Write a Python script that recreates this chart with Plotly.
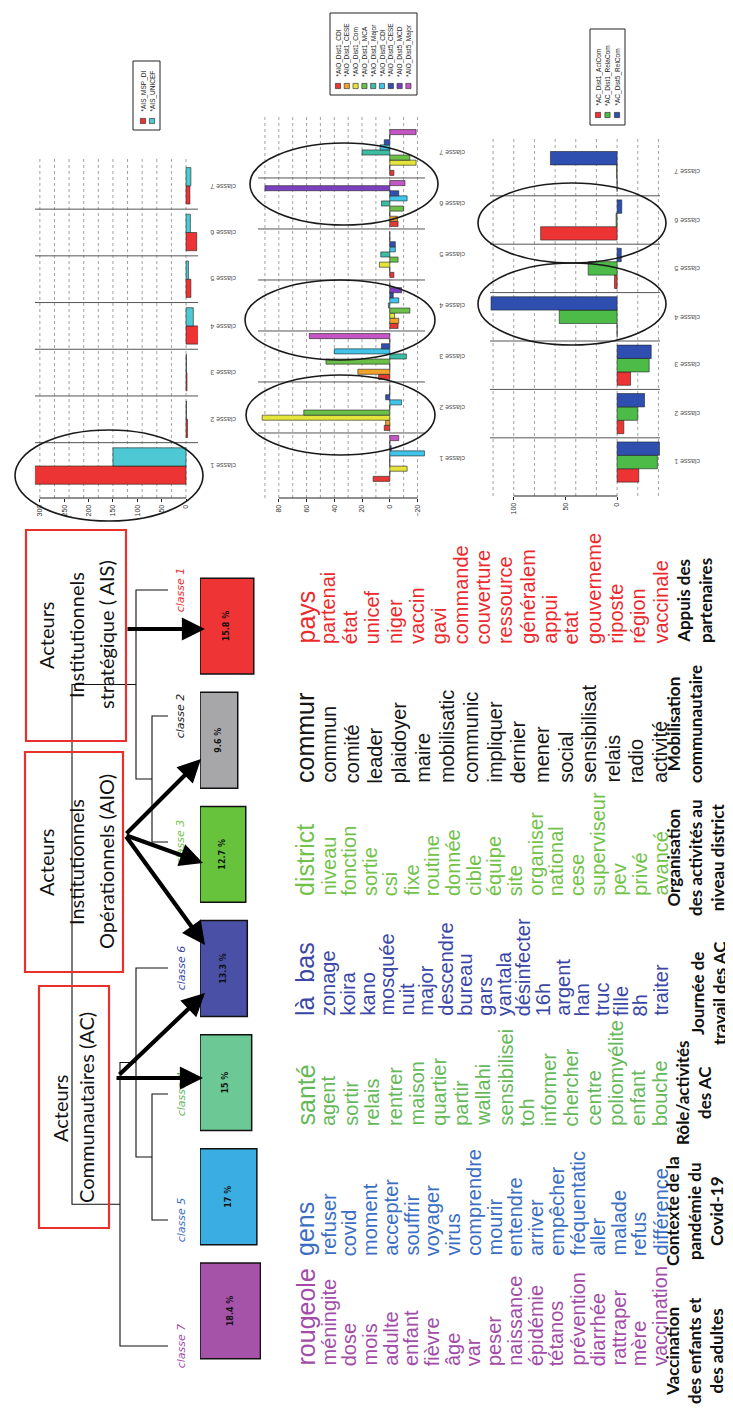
import numpy as np
import plotly.graph_objects as go

W, H = 733, 1409

# ---------------- data ----------------
classes = ["classe 1", "classe 2", "classe 3", "classe 4", "classe 5", "classe 6", "classe 7"]

# Acteurs Institutionnels Stratégiques
ais_names = ["*AIS_MSP_DI", "*AIS_UNICEF"]
ais_msp_di = [312, -3, -2, -27, -10, -22, -8]
ais_unicef = [150, -1, -1, -15, -5, -9, -10]

# Acteurs Institutionnels Opérationnels
aio_names = ["*AIO_Dist1_CDI", "*AIO_Dist1_CESE", "*AIO_Dist1_Com", "*AIO_Dist1_MCA",
             "*AIO_Dist1_Major", "*AIO_Dist5_CDI", "*AIO_Dist5_CESE", "*AIO_Dist5_MCD",
             "*AIO_Dist5_Major"]
aio_d1_cdi = [12, 4, 8, -6, -3, -6, -3]
aio_d1_cese = [0, 3, 23, -6.5, 0, -5.5, 0]
aio_d1_com = [-12.5, 92, 0, -3.5, 7.5, 0, -19]
aio_d1_mca = [0, 62, 46, -14.5, -6, -10, -14.5]
aio_d1_major = [0, 0, -12, 1, 6.5, 6, 20]
aio_d5_cdi = [-25, -8.5, 40, -6.5, -4, -12.5, 7]
aio_d5_cese = [-1, 3, 6, -2.5, -4, -6.5, 4]
aio_d5_mcd = [0, 0, 0, -8.5, 0, 90, 0]
aio_d5_major = [-6.5, 0, 58, 0, 0, -11, -19]

# Acteurs Communautaires
ac_names = ["*AC_Dist1_ActCom", "*AC_Dist1_RelaCom", "*AC_Dist5_RelCom"]
ac_d1_actcom = [-21, -6.5, -13, 0, 2.5, 74, 0]
ac_d1_relacom = [-39, -20, -31, 56, 28, 1, 0.5]
ac_d5_relcom = [-41, -26.5, -33, 122, -4, -4.5, 64.5]

# dendrogram (leaf order top -> bottom) and class sizes (%)
dendro_order = ["classe 1", "classe 2", "classe 3", "classe 6", "classe 4", "classe 5", "classe 7"]
class_pct = [15.8, 9.6, 12.7, 13.3, 15, 17, 18.4]
pct_labels = ["15.8 %", "9.6 %", "12.7 %", "13.3 %", "15 %", "17 %", "18.4 %"]
# merges: (left, right, height); ints refer to earlier merges
merges = [("classe 2", "classe 3", 1.0), ("classe 4", "classe 5", 1.0),
          ("classe 1", 0, 2.0), ("classe 6", 1, 2.0), (3, "classe 7", 3.0), (2, 4, 6.0)]

words = {
    "classe 1": ["pays", "partenai", "état", "unicef", "niger", "vaccin", "gavi", "commande",
                 "couverture", "ressource", "généralem", "appui", "etat", "gouverneme",
                 "riposte", "région", "vaccinale"],
    "classe 2": ["commur", "commun", "comité", "leader", "plaidoyer", "maire", "mobilisatic",
                 "communic", "impliquer", "dernier", "mener", "social", "sensibilisat",
                 "relais", "radio", "activité"],
    "classe 3": ["district", "niveau", "fonction", "sortie", "csi", "fixe", "routine", "donnée",
                 "cible", "équipe", "site", "organiser", "national", "cese", "superviseur",
                 "pev", "privé", "avancé"],
    "classe 6": ["là  bas", "zonage", "koira", "kano", "mosquée", "nuit", "major", "descendre",
                 "bureau", "gars", "yantala", "désinfecter", "16h", "argent", "han", "truc",
                 "fille", "8h", "traiter"],
    "classe 4": ["santé", "agent", "sortir", "relais", "rentrer", "maison", "quartier", "partir",
                 "wallahi", "sensibilisei", "toh", "informer", "chercher", "centre",
                 "poliomyélite", "enfant", "bouche"],
    "classe 5": ["gens", "refuser", "covid", "moment", "accepter", "souffrir", "voyager", "virus",
                 "comprendre", "mourir", "entendre", "arriver", "empêcher", "fréquentatic",
                 "aller", "malade", "refus", "différence"],
    "classe 7": ["rougeole", "méningite", "dose", "mois", "adulte", "enfant", "fièvre", "âge",
                 "var", "peser", "naissance", "épidémie", "tétanos", "prévention", "diarrhée",
                 "rattraper", "mère", "vaccination"],
}
theme_labels = {
    "classe 1": "Appuis des<br>partenaires",
    "classe 2": "Mobilisation<br>communautaire",
    "classe 3": "Organisation<br>des activités au<br>niveau district",
    "classe 6": "Journée de<br>travail des AC",
    "classe 4": "Rôle/activités<br>des AC",
    "classe 5": "Contexte de la<br>pandémie du<br>Covid-19",
    "classe 7": "Vaccination<br>des enfants et<br>des adultes",
}
actor_boxes = [
    ["Acteurs", "Institutionnels", "stratégique ( AIS)"],
    ["Acteurs", "Institutionnels", "Opérationnels (AIO)"],
    ["Acteurs", "Communautaires (AC)"],
]

# ---------------- styles ----------------
box_colors = {"classe 1": "#ee3434", "classe 2": "#a7a7aa", "classe 3": "#67c23c",
              "classe 6": "#4a50a6", "classe 4": "#6cc894", "classe 5": "#3aaee2",
              "classe 7": "#a553a8"}
text_colors = {"classe 1": "#ec2a2e", "classe 2": "#161616", "classe 3": "#72c24a",
               "classe 6": "#3a47a6", "classe 4": "#66b85a", "classe 5": "#3a6ec2",
               "classe 7": "#a24ca8"}
ais_colors = ["#ec3434", "#4ec8d2"]
aio_colors = ["#e53935", "#f2a22a", "#e4e43a", "#6cc04a", "#3cbca2", "#40c4ea",
              "#3050b0", "#7b3fbf", "#c455c4"]
ac_colors = ["#ec3434", "#4cbb47", "#2f4fb0"]

fig = go.Figure()
ann, shp = [], []


def dom_x(a, b):
    return [a / W, b / W]


def dom_y(top, bot):
    return [1 - bot / H, 1 - top / H]


# ---------------- canvas axis (pixel space) ----------------
fig.add_trace(go.Scatter(x=[0], y=[0], mode="markers", marker=dict(opacity=0),
                         xaxis="x6", yaxis="y6", showlegend=False, hoverinfo="skip"))

# ---------------- bar charts ----------------
charts = [
    dict(sfx="", names=ais_names, series=[ais_msp_di, ais_unicef], colors=ais_colors,
         xdom=(27, 190), ydom=(148, 490), xr=[310, -24.6], yr=[0.315, 7.638], fill=0.78,
         ticks=list(range(0, 301, 50)), grid=(0, 300, 30), std=10),
    dict(sfx="2", names=aio_names,
         series=[aio_d1_cdi, aio_d1_cese, aio_d1_com, aio_d1_mca, aio_d1_major,
                 aio_d5_cdi, aio_d5_cese, aio_d5_mcd, aio_d5_major],
         colors=aio_colors, xdom=(250, 417), ydom=(107, 490), xr=[95, -25.4],
         yr=[0.225, 7.735], fill=0.9, ticks=list(range(-20, 81, 20)), grid=(-20, 90, 10), std=12),
    dict(sfx="3", names=ac_names, series=[ac_d1_actcom, ac_d1_relacom, ac_d5_relcom],
         colors=ac_colors, xdom=(482, 652), ydom=(130, 488), xr=[123, -41.5],
         yr=[0.298, 7.694], fill=0.83, ticks=[0, 50, 100], grid=(-40, 120, 20), std=12),
]
ypos = list(range(1, 8))
for ch in charts:
    xa, ya = "x" + ch["sfx"], "y" + ch["sfx"]
    n = len(ch["series"])
    bw = ch["fill"] / n
    for i, (vals, col) in enumerate(zip(ch["series"], ch["colors"])):
        fig.add_trace(go.Bar(x=vals, y=ypos, orientation="h", width=bw,
                             offset=-ch["fill"] / 2 + i * bw,
                             marker=dict(color=col, line=dict(color="#222", width=0.6)),
                             xaxis=xa, yaxis=ya, showlegend=False))
    fig.update_layout(**{
        "xaxis" + ch["sfx"]: dict(domain=dom_x(*ch["xdom"]), range=ch["xr"], anchor=ya,
                                  tickvals=ch["ticks"], tickangle=-90, ticks="outside",
                                  ticklen=3, tickcolor="#222", showgrid=False, zeroline=False,
                                  showline=False, tickfont=dict(size=7, color="#333")),
        "yaxis" + ch["sfx"]: dict(domain=dom_y(*ch["ydom"]), range=ch["yr"], anchor=xa,
                                  visible=False),
    })
    g0, g1, gs = ch["grid"]
    for v in np.arange(g0, g1 + 0.1, gs):
        shp.append(dict(type="line", xref=xa, x0=v, x1=v, yref=ya + " domain", y0=0, y1=1,
                        line=dict(color="#8a8a8a", width=0.8, dash="dot"), layer="below"))
    shp.append(dict(type="line", xref=xa, x0=min(ch["ticks"]), x1=max(ch["ticks"]),
                    yref=ya + " domain", y0=0, y1=0, line=dict(color="#222", width=1)))
    for k in range(1, 7):
        shp.append(dict(type="line", xref=xa + " domain", x0=0, x1=1, yref=ya, y0=k + 0.5,
                        y1=k + 0.5, line=dict(color="#555", width=1)))
    for k, c in zip(ypos, classes):
        ann.append(dict(text=c, xref=xa + " domain", x=1, xanchor="left", xshift=ch["std"],
                        yref=ya, y=k, yanchor="middle", textangle=180, showarrow=False,
                        font=dict(size=7, color="#555")))

# custom legends (rotated)
legends = [
    dict(names=ais_names, colors=ais_colors, box=(125, 53, 152, 122), x0=135, dx=9, sq=113, ty=106),
    dict(names=aio_names, colors=aio_colors, box=(322, 5, 409, 87), x0=330, dx=8.8, sq=78, ty=71),
    dict(names=ac_names, colors=ac_colors, box=(582, 21, 617, 117), x0=590, dx=9.5, sq=107, ty=100),
]
for lg in legends:
    bx0, by0, bx1, by1 = lg["box"]
    shp.append(dict(type="rect", xref="x6", yref="y6", x0=bx0, y0=by0, x1=bx1, y1=by1,
                    line=dict(color="#222", width=1)))
    for i, (nm, col) in enumerate(zip(lg["names"], lg["colors"])):
        cx = lg["x0"] + i * lg["dx"]
        shp.append(dict(type="rect", xref="x6", yref="y6", x0=cx - 2.6, x1=cx + 2.6,
                        y0=lg["sq"] - 2.6, y1=lg["sq"] + 2.6, fillcolor=col,
                        line=dict(color="#222", width=0.6)))
        ann.append(dict(text=nm, xref="x6", yref="y6", x=cx, y=lg["ty"], xanchor="center",
                        yanchor="bottom", textangle=-90, showarrow=False,
                        font=dict(size=6.5, color="#222")))

# ellipses
for (x0, y0, x1, y1) in [(7, 422, 195, 513), (242, 135, 430, 217), (237, 272, 427, 352),
                         (238, 367, 427, 447), (470, 175, 658, 255), (470, 255, 658, 337)]:
    shp.append(dict(type="circle", xref="x6", yref="y6", x0=x0, y0=y0, x1=x1, y1=y1,
                    line=dict(color="#1a1a1a", width=1.6)))

# ---------------- dendrogram ----------------
node = {}
for i, c in enumerate(dendro_order):
    node[c] = (0.0, float(i))
lx, ly = [], []
for mi, (a, b, h) in enumerate(merges):
    ha, ya_ = node[a]
    hb, yb = node[b]
    lx += [ha, h, h, hb, None]
    ly += [ya_, ya_, yb, yb, None]
    node[mi] = (h, (ya_ + yb) / 2)
fig.add_trace(go.Scatter(x=lx, y=ly, mode="lines", line=dict(color="#111", width=1.1),
                         xaxis="x5", yaxis="y5", showlegend=False, hoverinfo="skip"))
fig.update_layout(
    xaxis5=dict(domain=dom_x(40, 170), range=[7.5, -0.625], visible=False, anchor="y5"),
    yaxis5=dict(domain=dom_y(540, 1380), range=[6.333, -0.333], visible=False, anchor="x5"),
)
for i, c in enumerate(dendro_order):
    ann.append(dict(text="<i>" + c + "</i>", xref="x5", yref="y5", x=-0.3, y=i,
                    xanchor="left", yanchor="middle", textangle=-90, showarrow=False,
                    font=dict(size=11, color=text_colors[c], family="DejaVu Sans")))

# class boxes as bars
fig.add_trace(go.Bar(x=[p + 5 for p in class_pct], base=-5, y=dendro_order, orientation="h",
                     width=0.84, marker=dict(color=[box_colors[c] for c in dendro_order],
                                             line=dict(color="#111", width=1.5)),
                     text=pct_labels, textposition="inside", insidetextanchor="middle",
                     textangle=-90, constraintext="none",
                     textfont=dict(size=8, color="#111", family="DejaVu Sans", weight="bold"),
                     xaxis="x4", yaxis="y4", showlegend=False))
fig.update_layout(
    xaxis4=dict(domain=dom_x(192, 253), range=[-5, 18.6], visible=False, anchor="y4"),
    yaxis4=dict(domain=dom_y(561, 1360), categoryorder="array", categoryarray=dendro_order,
                autorange="reversed", visible=False, anchor="x4"),
)

# actor boxes (red frames with rotated text)
box_geom = [(18, 522, 118, 733, [38, 68, 98], 627),
            (17, 744, 115, 964, [38, 68, 98], 854),
            (31, 978, 101, 1220, [52, 78], 1100)]
for (x0, y0, x1, y1, lxs, cy), lines in zip(box_geom, actor_boxes):
    shp.append(dict(type="rect", xref="x6", yref="y6", x0=x0, y0=y0, x1=x1, y1=y1,
                    line=dict(color="#e8302c", width=2.2)))
    for xx, t in zip(lxs, lines):
        ann.append(dict(text=t, xref="x6", yref="y6", x=xx, y=cy, xanchor="center",
                        yanchor="middle", textangle=-90, showarrow=False,
                        font=dict(size=20, color="#111", family="Lato")))

# arrows
for (tx, ty, hx, hy) in [(118, 621, 197, 621), (117, 827, 193, 751), (117, 827, 195, 855),
                         (117, 827, 197, 937), (107, 1070, 195, 1070), (110, 1068, 197, 985)]:
    ann.append(dict(text="", xref="x6", yref="y6", x=hx, y=hy, axref="x6", ayref="y6",
                    ax=tx, ay=ty, showarrow=True, arrowhead=2, arrowsize=1.1,
                    arrowwidth=4.2, arrowcolor="#000", standoff=0))

# word lists
col_bottom = {"classe 1": 638, "classe 2": 777, "classe 3": 890, "classe 6": 1010,
              "classe 4": 1120, "classe 5": 1250, "classe 7": 1360}
for c in dendro_order:
    wl = words[c]
    xs = [297] + list(np.linspace(320, 652, len(wl) - 1))
    for j, (w, xx) in enumerate(zip(wl, xs)):
        ann.append(dict(text=w, xref="x6", yref="y6", x=xx, y=col_bottom[c], xanchor="center",
                        yanchor="bottom", textangle=-90, showarrow=False,
                        font=dict(size=25 if j == 0 else 20, color=text_colors[c],
                                  family="Liberation Sans")))

# theme labels
theme_pos = {"classe 1": (686, 593), "classe 2": (676, 716), "classe 3": (687, 850),
             "classe 6": (700, 985), "classe 4": (685, 1085), "classe 5": (686, 1203),
             "classe 7": (686, 1343)}
for c in dendro_order:
    xx, yy = theme_pos[c]
    ann.append(dict(text="<b>" + theme_labels[c] + "</b>", xref="x6", yref="y6", x=xx, y=yy,
                    xanchor="center", yanchor="middle", textangle=-90, showarrow=False,
                    align="center", font=dict(size=17, color="#111", family="Lato")))

fig.update_layout(
    width=W, height=H, autosize=False, margin=dict(l=0, r=0, t=0, b=0),
    paper_bgcolor="white", plot_bgcolor="rgba(0,0,0,0)", barmode="overlay",
    font=dict(family="Liberation Sans"),
    xaxis6=dict(domain=[0, 1], range=[0, W], visible=False, anchor="y6"),
    yaxis6=dict(domain=[0, 1], range=[H, 0], visible=False, anchor="x6"),
    annotations=ann, shapes=shp,
)
fig.write_html("out.html")
